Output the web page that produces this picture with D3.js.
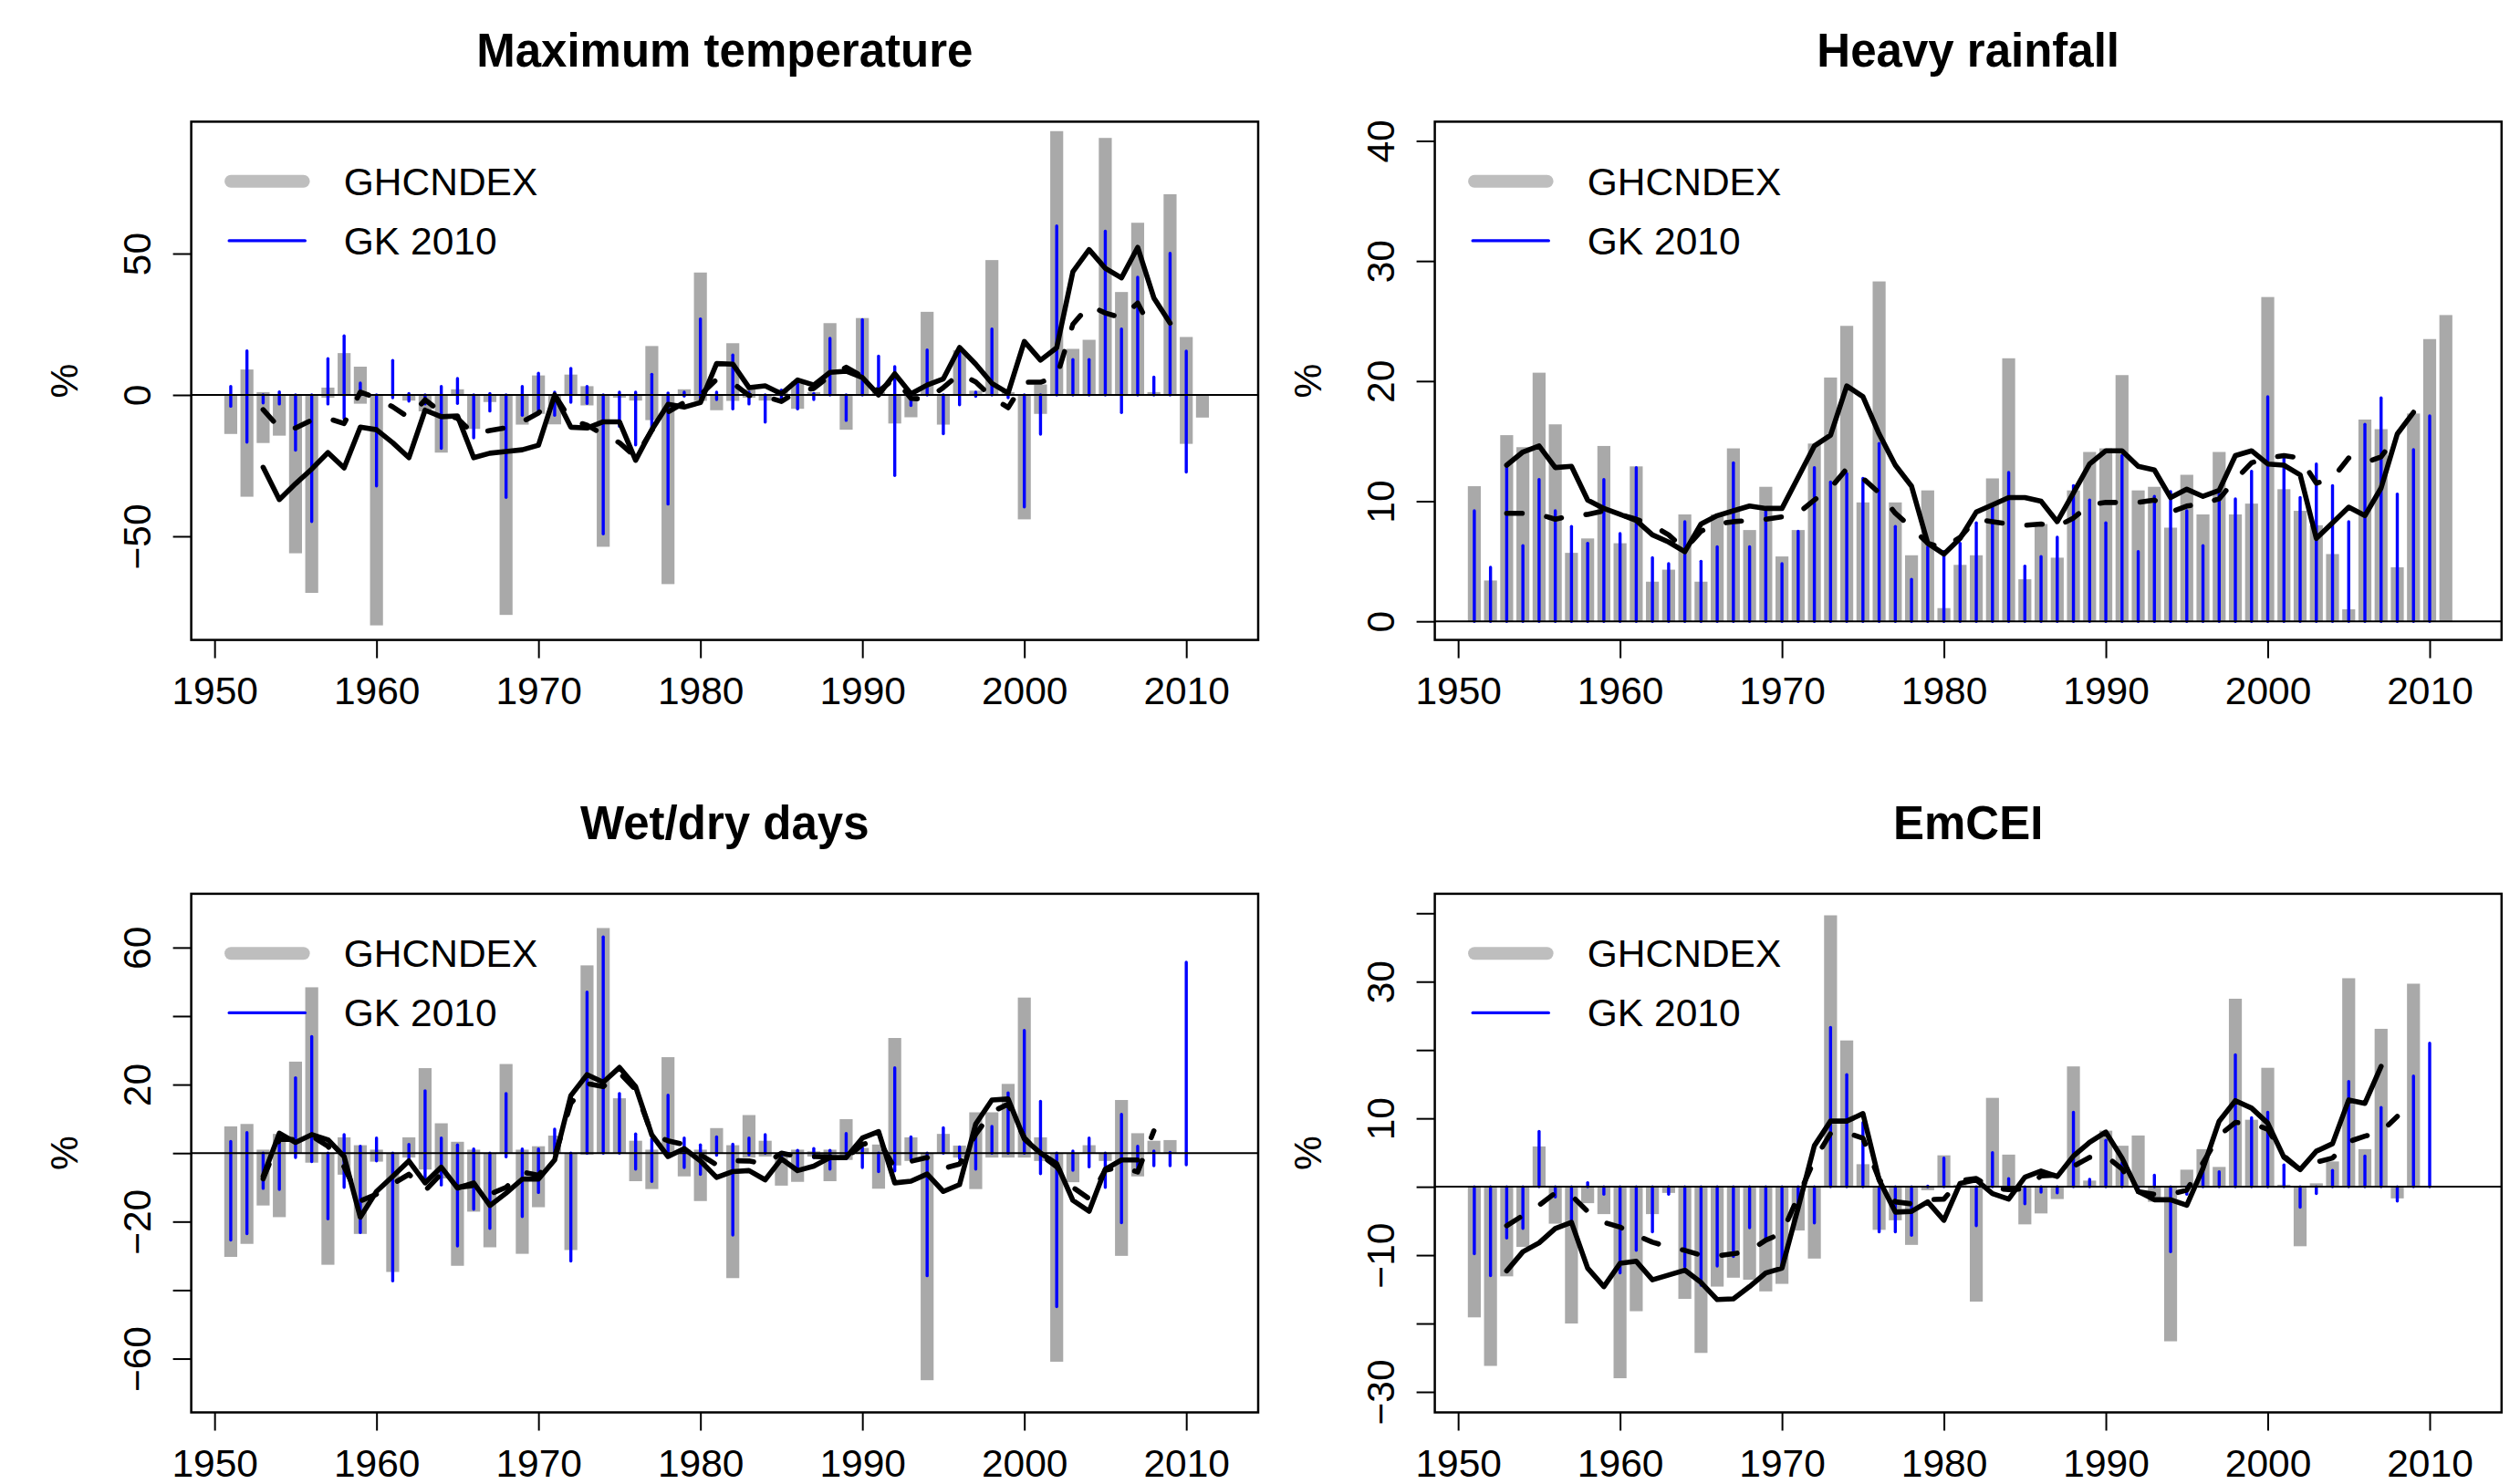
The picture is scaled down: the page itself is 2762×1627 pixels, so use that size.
<!DOCTYPE html>
<html><head><meta charset="utf-8">
<script src="https://cdn.jsdelivr.net/npm/d3@7"></script>
<style>body{margin:0;background:#fff}</style>
</head><body>
<script>
// ---------- DATA ----------
const years = [1951,1952,1953,1954,1955,1956,1957,1958,1959,1960,
  1961,1962,1963,1964,1965,1966,1967,1968,1969,1970,
  1971,1972,1973,1974,1975,1976,1977,1978,1979,1980,
  1981,1982,1983,1984,1985,1986,1987,1988,1989,1990,
  1991,1992,1993,1994,1995,1996,1997,1998,1999,2000,
  2001,2002,2003,2004,2005,2006,2007,2008,2009,2010,2011];
const xTicks = [1950,1960,1970,1980,1990,2000,2010];
const legendLabels = ["GHCNDEX","GK 2010"];

// Maximum temperature (upper / lower parts of each bar)
const tmaxGrayHi = [0,9,1,0,0,0,2.6,14.8,10,0, 0,0,0,0,2,0,0,0,0,6.9, 0,7.2,3.1,0,0,0,17.3,0,2,43.3,
  0,18.3,2,0,2,4.7,1,25.4,0,27.2, 1,0,0,29.4,0,15.8,1.5,47.7,1,0, 3.7,93.3,16.3,19.5,90.9,36.4,60.9,1,71,20.5, 0];
const tmaxGrayLo = [-13.8,-36,-17,-14.4,-56,-70,-1,0,-3.1,-81.5, 0,-2,-5.8,-20.4,0,-12,-2.5,-77.8,-10.5,-6.7,
  -10.4,0,-3.7,-53.7,-1,-2,-8.9,-66.9,0,-2.1, -5.4,-2.1,-1,-2,0,-4.9,0,0,-12.3,0,
  0,-10.1,-7.9,0,-10.5,0,0,0,0,-44, -6.7,0,0,0,0,0,0,0,0,-17.3, -8];
const tmaxBlueHi = [3,15.6,0,1.1,0,0,12.8,20.9,4.2,0, 12.2,0.5,0,3,5.8,0,0.5,0,3,7.7,
  1,9.4,3,0,1,1,7.3,0.7,1,26.9, 1,14.1,1,0,1.7,4.8,0.5,20,0,26.6,
  13.7,10,0,15.9,0,15.9,1,23.3,1,0, 0,59.8,12.5,12.5,57.9,23.3,41.6,6.3,50.1,15.5, null];
const tmaxBlueLo = [-4,-16.7,-2.8,-3.2,-19.5,-44.8,-3.2,-8.4,0,-32.2, -1,-2.2,-3.2,-18.9,-3,-15.2,-5.7,-36.2,-7.2,-5.9,
  -7.2,-2.6,-3,-49.1,-11.1,-17.7,-11.5,-38.6,-0.4,-1, -1.6,-4.9,-3.2,-9.6,-2.2,-4.9,-1.6,0,-9,0,
  0,-28.5,-3.7,0,-13.7,-3.5,-0.5,0,-1,-39.6, -13.9,0,0,0,0,-6.2,0,0,0,-27.3, null];
const tmaxGrayMean = [null,null,-25.6,-37,-31.4,-26.2,-20.4,-25.8,-11.4,-12.3,
  -16.9,-22.2,-5.4,-7.7,-7.4,-22.2,-20.6,-20,-19.4,-17.8,
  0,-11.4,-11.7,-9.5,-9.5,-23.1,-12.3,-3.3,-4.3,-2.7,
  11.1,10.9,2.6,3.2,0.4,5.3,3.5,8,8.4,6.2,
  0,7.5,0.4,3.5,5.7,16.8,10.9,4.1,0.7,18.9,
  12.3,16.7,43.6,51.4,44.8,41.4,52.2,34.3,25.4,null,null];
const tmaxBlueMean = [null,null,-5.2,-11.6,-11.7,-8.9,-8.3,-10.1,1,-1.1,
  -4.2,-8,-1.7,-6.2,-8.3,-13.8,-12.6,-11.6,-9.5,-6.4,
  0,-8.9,-10.7,-14,-16.9,-22,-12.5,-6,-2.7,0,
  5.5,4.2,-0.2,-0.5,-2.3,1.3,2.3,6.8,9.8,6.5,
  1.2,5.9,-1.2,-1.5,2.6,7.5,4.6,-0.9,-4.5,4.5,
  4.5,6.4,25,31.6,29,27.3,32.5,21.5,null,null,null];
const tmaxYTicks = [-50,0,50];
const tmaxYLabels = [-50,0,50];

// Heavy rainfall
const rainGray = [11.25,3.4,15.5,14.5,20.7,16.4,5.7,6.9,14.6,6.5, 12.9,3.3,4.3,8.9,3.3,8.9,14.4,7.6,11.2,5.4,
  7.6,14.8,20.3,24.6,9.9,28.3,9.9,5.5,10.9,1.1, 4.7,5.5,11.9,21.9,3.5,8.1,5.3,10.9,14.1,14.4,
  20.5,10.9,11.2,7.8,12.2,8.9,14.1,8.9,9.8,27.0, 11.0,9.2,8.0,5.6,1.0,16.8,16.0,4.5,17.3,23.5, 25.5];
const rainBlue = [9.2,4.5,12.9,6.3,11.8,9.2,7.9,6.5,11.8,7.3, 12.8,5.3,4.8,8.3,5.0,6.2,13.2,6.2,9.3,4.8,
  7.5,12.8,11.6,12.3,11.9,14.8,7.9,3.5,6.2,5.8, 6.5,8.2,9.5,12.4,4.6,5.4,7,11.3,10.1,8.2,
  13.8,5.8,10.4,10.8,9.2,6.3,10.6,10.2,12.5,18.7, 13.8,10.3,13.1,11.3,8.3,16.4,18.6,10.6,14.3,17.1, null];
const rainGrayMean = [null,null,13.0,14.1,14.6,12.8,12.9,10.1,9.4,8.9,
  8.4,7.2,6.6,5.8,8.1,8.8,9.2,9.6,9.4,9.4,
  12,14.6,15.5,19.6,18.7,15.6,13,11.25,6.5,5.6,
  6.9,9.1,9.7,10.3,10.3,10.0,8.3,10.7,13.1,14.2,
  14.2,12.9,12.6,10.3,11.0,10.4,10.9,13.8,14.2,13.1,
  13.0,12.2,6.9,8.2,9.5,8.8,11.1,15.6,17.4,null,null];
const rainBlueMean = [null,null,9.0,9.0,8.9,8.5,8.8,8.9,9.2,8.9,
  8.5,8.0,7.2,6.0,7.5,8.1,8.3,8.4,8.5,8.7,
  9.0,10.1,11.1,12.7,11.9,10.7,9.0,7.8,6.5,6.1,
  7.0,8.5,8.3,8.1,8.0,8.1,7.9,8.6,9.7,9.9,
  9.9,9.9,10.1,9.1,9.6,9.8,10.2,11.8,13.2,13.6,
  13.8,13.6,11.5,11.9,13.6,13.2,13.7,15.5,null,null,null];
const rainYTicks = [0,10,20,30,40];
const rainYLabels = [0,10,20,30,40];

// Wet/dry days
const wetGrayHi = [7.8,8.5,1,5.6,26.7,48.4,0,4.6,2.3,1, 0,4.6,24.8,8.7,3.3,1,0,26,1,2,
  5.1,0,54.8,65.7,16,3.6,1,28,1,1, 7.3,2.3,11.1,3.6,0,1,0.5,1,9.9,1.5,
  2.5,33.6,4.6,0,5.6,2.2,11.9,11.9,20.2,45.4, 4.6,0,0,2.3,0,15.5,5.8,3.6,3.8,null, null];
const wetGrayLo = [-30.3,-26.5,-15.3,-18.7,0,-2.8,-32.6,-6.3,-23.6,-2.5, -34.7,-1.3,-4.8,-7.4,-32.9,-17.1,-27.5,0,-29.4,-15.8,
  0,-28.3,-0.5,0,0,-8.2,-10.5,0,-6.8,-14, 0,-36.5,-1.3,-1,-9.5,-8.4,-1,-8.2,-2,0,
  -10.4,-3.6,-2.3,-66.3,0,-1.3,-10.5,-1.3,-1.3,-1.3, -2.3,-60.9,-8.5,0,-2.3,-30,-6.8,0,0,null, null];
const wetBlueHi = [3.4,6,0,5,22,34,0,5.4,2,4.4, 0,2.5,18.2,4.4,2.4,1.2,0,17.4,1.2,1.2,
  7,0,47,63.1,17.4,5.6,4.2,16.9,4.4,2.4, 4.7,2.6,4.4,5.4,0,0.8,1.3,0.8,5.7,1.6,
  0,24.9,4.7,0,7.4,1.8,7.8,7.8,17.6,35.8, 15.1,0,0.6,4.4,0,11.3,2,0.6,0.2,55.7, null];
const wetBlueLo = [-25.4,-23.5,-10.3,-10.6,-1.3,-2.5,-19.2,-10,-23.2,-2.3, -37.3,-3,-8.5,-9.3,-27.1,-16.4,-22,-1.1,-18.5,-11.5,
  0,-31.5,0,0,0,-4.7,-8.3,-0.5,-4.2,-6.2, -0.6,-23.9,-0.5,0,-2.2,-4.2,-1.3,-4.7,-1.6,-4.2,
  -5.4,-5.2,-1.6,-35.8,0,-1.6,-4.7,0,0,0, -6,-44.8,-5,-4,-10,-20.3,-5.2,-3.7,-3.7,-3.4, null];
const wetGrayMean = [null,null,-6.8,5.8,3.1,5.4,3.9,-1,-18.7,-11.2,
  -6.8,-2.3,-8.7,-4.1,-10.2,-8.7,-15.3,-11.7,-7.6,-7.6,
  -2,16.8,22.9,20.7,25,19.4,5.3,-1,1.3,-2.3,
  -7.1,-5.4,-5.1,-7.8,-1.7,-5.1,-3.8,-1.3,-1.3,4.4,
  6.3,-8.7,-8.2,-6.1,-11.2,-9.2,8.5,15.5,15.8,4.1,
  0,-3.1,-13.8,-17,-4.7,-2,-2,null,null,null,null];
const wetBlueMean = [null,null,-7.5,4,4,5,2,-4,-14,-12,
  -9,-6.2,-11,-6,-10,-9.5,-12,-10,-5.5,-6.5,
  -1,14.5,20.3,19.4,23.5,18.5,5.5,3.6,2.5,-0.5,
  -3.4,-2.2,-2.3,-3.2,0,-1,-1,-1.1,-1.4,2.5,
  3.8,-4.3,-2.4,-1.3,-4.5,-3.2,5.5,12,14.3,4.5,
  -0.5,-4,-10,-13.3,-5,-4,-5.5,6.5,null,null,null];
const wetYTicks = [-60,-40,-20,0,20,40,60];
const wetYLabels = [-60,-20,20,60];

// EmCEI
const emGray = [-19.1,-26.2,-13.1,-8.8,5.9,-5.4,-20,-2.4,-4,-28, -18.2,-4,-0.9,-16.4,-24.3,-14.6,-13.3,-13.6,-15.3,-14.2,
  -6.4,-10.5,39.7,21.4,3.3,-6.3,-4.9,-8.5,-0.5,4.6, 0.3,-16.8,13,4.7,-5.5,-3.9,-1.8,17.6,0.9,8.2,
  6,7.5,-2.2,-22.6,2.5,5.5,2.9,27.5,9.8,17.4, 0.3,-8.7,0.5,3.7,30.5,5.5,23.1,-1.7,29.7,null, null];
const emBlue = [-9.8,-13,-7.5,-6.1,8.1,-1.5,-5.5,0.6,-1.1,-12.6, -9.3,-6.6,-1.1,-11.7,-14.4,-11.6,-10.2,-6,-7.6,-11.7,
  -3.3,-5.3,23.3,16.4,9.4,-6.6,-6.6,-7.1,0.1,4.2, 0.2,-5.7,5,1.2,-2.5,-0.8,-0.9,10.9,1.1,6.8,
  3.5,-0.7,1.7,-9.5,-1.1,3.5,2.2,19.3,10.1,10.9, 3.2,-3,-1,2.4,15.4,4.5,11.6,-2.1,16.2,21, null];
const emGrayMean = [null,null,-12.3,-9.5,-8.2,-6.1,-5.2,-11.9,-14.6,-11.2,
  -10.9,-13.6,-12.9,-12.2,-14,-16.5,-16.4,-14.6,-12.6,-11.9,
  -3.1,6,9.6,9.6,10.7,1,-3.7,-3.6,-2.2,-4.9,
  0.5,1,-1,-1.8,1.4,2.3,1.5,4.5,6.5,8,
  4.2,-0.7,-1.9,-1.9,-2.7,2.7,9.6,12.6,11.5,9.3,
  4.3,2.5,5.2,6.3,12.7,12.2,17.6,null,null,null,null];
const emBlueMean = [null,null,-5.7,-4.2,-2.7,-0.9,-1.3,-3.6,-5.2,-5.9,
  -7.1,-8.1,-8.8,-9.3,-10,-10.1,-9.8,-9.4,-7.8,-6.8,
  -1.4,3.9,7.8,7.9,7.1,1.1,-2.2,-2.5,-1.9,-1.8,
  0.9,1.2,-0.2,-0.4,-0.3,1.6,1.7,3,4.3,4.5,
  2.6,-0.7,-1.1,-1.1,-0.5,3.5,7.5,9.4,9.3,8.4,
  4.5,2.5,3.6,4.2,6.6,7.4,8,10.3,null,null,null];
const emYTicks = [-30,-20,-10,0,10,20,30,40];
const emYLabels = [-30,-10,10,30];

// ---------- DRAWING ----------
const W = 2762, H = 1627;
const FONT = "'Liberation Sans', Arial, Helvetica, sans-serif";
const posPart = a => a.map(v => v == null ? null : Math.max(0, v));
const negPart = a => a.map(v => v == null ? null : Math.min(0, v));

const panels = [
  {title:"Maximum temperature", gHi:tmaxGrayHi, gLo:tmaxGrayLo, bHi:tmaxBlueHi, bLo:tmaxBlueLo,
   solid:tmaxGrayMean, dashed:tmaxBlueMean, yTicks:tmaxYTicks, yLabels:tmaxYLabels,
   x0:209.6, x1:1379, y0:133.4, y1:701.6, yDom:[-86.65, 96.65]},
  {title:"Heavy rainfall", gHi:posPart(rainGray), gLo:negPart(rainGray), bHi:posPart(rainBlue), bLo:negPart(rainBlue),
   solid:rainGrayMean, dashed:rainBlueMean, yTicks:rainYTicks, yLabels:rainYLabels,
   x0:1572.6, x1:2741.8, y0:133.4, y1:701.6, yDom:[-1.55, 41.6]},
  {title:"Wet/dry days", gHi:wetGrayHi, gLo:wetGrayLo, bHi:wetBlueHi, bLo:wetBlueLo,
   solid:wetGrayMean, dashed:wetBlueMean, yTicks:wetYTicks, yLabels:wetYLabels,
   x0:209.6, x1:1379, y0:979.9, y1:1548.5, yDom:[-75.7, 75.7]},
  {title:"EmCEI", gHi:posPart(emGray), gLo:negPart(emGray), bHi:posPart(emBlue), bLo:negPart(emBlue),
   solid:emGrayMean, dashed:emBlueMean, yTicks:emYTicks, yLabels:emYLabels,
   x0:1572.6, x1:2741.8, y0:979.9, y1:1548.5, yDom:[-33, 42.85]}
];

const svg = d3.select("body").append("svg")
  .attr("width", W).attr("height", H)
  .style("font-family", FONT);
svg.append("rect").attr("width", W).attr("height", H).attr("fill", "#fff");

const fmt = d3.format("d");

panels.forEach(p => {
  const x = d3.scaleLinear().domain([1948.56, 2014.44]).range([p.x0, p.x1]);
  const y = d3.scaleLinear().domain(p.yDom).range([p.y1, p.y0]);
  const g = svg.append("g");

  const rows = years.map((yr, i) => ({yr, gHi:p.gHi[i], gLo:p.gLo[i], bHi:p.bHi[i], bLo:p.bLo[i],
    s:p.solid[i], d:p.dashed[i]}));

  // gray bars
  g.append("g").selectAll("rect")
    .data(rows.filter(r => r.gHi != null && (r.gHi !== 0 || r.gLo !== 0)))
    .join("rect")
    .attr("x", r => x(r.yr) - 7.1).attr("width", 14.2)
    .attr("y", r => y(r.gHi)).attr("height", r => Math.max(0.5, y(r.gLo) - y(r.gHi)))
    .attr("fill", "#a9a9a9");

  // blue bars
  g.append("g").selectAll("line")
    .data(rows.filter(r => r.bHi != null))
    .join("line")
    .attr("x1", r => x(r.yr)).attr("x2", r => x(r.yr))
    .attr("y1", r => y(r.bHi)).attr("y2", r => y(r.bLo))
    .attr("stroke", "#0000ff").attr("stroke-width", 3.4).attr("stroke-linecap", "round");

  // zero line
  g.append("line").attr("x1", p.x0).attr("x2", p.x1).attr("y1", y(0)).attr("y2", y(0))
    .attr("stroke", "#000").attr("stroke-width", 2);

  // running means
  const lineS = d3.line().defined(r => r.s != null).x(r => x(r.yr)).y(r => y(r.s));
  const lineD = d3.line().defined(r => r.d != null).x(r => x(r.yr)).y(r => y(r.d));
  g.append("path").attr("d", lineS(rows)).attr("fill", "none").attr("stroke", "#000")
    .attr("stroke-width", 5.6).attr("stroke-linejoin", "round").attr("stroke-linecap", "round");
  g.append("path").attr("d", lineD(rows.filter(r => r.d != null))).attr("fill", "none").attr("stroke", "#000")
    .attr("stroke-width", 5.6).attr("stroke-linejoin", "round").attr("stroke-linecap", "round")
    .attr("stroke-dasharray", "17,27");

  // box
  g.append("rect").attr("x", p.x0).attr("y", p.y0).attr("width", p.x1 - p.x0).attr("height", p.y1 - p.y0)
    .attr("fill", "none").attr("stroke", "#000").attr("stroke-width", 2.5);

  // x axis
  const ax = g.append("g").attr("transform", `translate(0,${p.y1})`)
    .call(d3.axisBottom(x).tickValues(xTicks).tickSize(20).tickSizeOuter(0).tickFormat(fmt));
  ax.select(".domain").remove();
  ax.attr("font-size", null).attr("font-family", null);
  ax.selectAll("line").attr("stroke-width", 2);
  ax.selectAll("text").attr("y", 70).attr("dy", null).style("font-size", "42.5px").attr("fill", "#000");

  // y axis
  const ay = g.append("g").attr("transform", `translate(${p.x0},0)`)
    .call(d3.axisLeft(y).tickValues(p.yTicks).tickSize(20).tickSizeOuter(0)
      .tickFormat(d => p.yLabels.includes(d) ? fmt(d) : ""));
  ay.select(".domain").remove();
  ay.attr("font-size", null).attr("font-family", null);
  ay.selectAll("line").attr("stroke-width", 2);
  ay.selectAll("text").attr("x", null).attr("dy", null).attr("text-anchor", "middle")
    .attr("transform", "translate(-44.6,0) rotate(-90)").style("font-size", "42.5px").attr("fill", "#000");

  // % label
  g.append("text").attr("transform", `translate(${p.x0 - 124.6},${(p.y0 + p.y1) / 2}) rotate(-90)`)
    .attr("text-anchor", "middle").style("font-size", "42.5px").text("%");

  // title
  g.append("text").attr("x", (p.x0 + p.x1) / 2).attr("y", p.y0 - 60)
    .attr("text-anchor", "middle").style("font-size", "51px").style("font-weight", "bold").text(p.title);

  // legend
  g.append("line").attr("x1", p.x0 + 43.5).attr("x2", p.x0 + 123).attr("y1", p.y0 + 65.4).attr("y2", p.y0 + 65.4)
    .attr("stroke", "#bebebe").attr("stroke-width", 14).attr("stroke-linecap", "round");
  g.append("line").attr("x1", p.x0 + 41.6).attr("x2", p.x0 + 124.7).attr("y1", p.y0 + 130.5).attr("y2", p.y0 + 130.5)
    .attr("stroke", "#0000ff").attr("stroke-width", 3.4).attr("stroke-linecap", "round");
  g.append("text").attr("x", p.x0 + 167.2).attr("y", p.y0 + 80.3).style("font-size", "42.5px").text(legendLabels[0]);
  g.append("text").attr("x", p.x0 + 167.2).attr("y", p.y0 + 145.4).style("font-size", "42.5px").text(legendLabels[1]);
});
</script>
</body></html>
